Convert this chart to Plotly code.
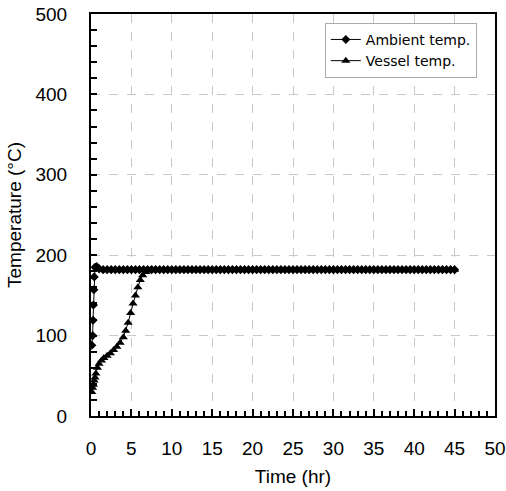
import plotly.graph_objects as go

amb_t = [0.1, 0.2, 0.25, 0.3, 0.35, 0.4, 0.5, 0.7, 1.0, 1.5,
         2, 2.5, 3, 3.5, 4, 4.5, 5, 5.5, 6, 6.5, 7, 7.5, 8, 8.5, 9, 9.5,
         10, 10.5, 11, 11.5, 12, 12.5, 13, 13.5, 14, 14.5, 15, 15.5, 16, 16.5,
         17, 17.5, 18, 18.5, 19, 19.5, 20, 20.5, 21, 21.5, 22, 22.5, 23, 23.5,
         24, 24.5, 25, 25.5, 26, 26.5, 27, 27.5, 28, 28.5, 29, 29.5, 30, 30.5,
         31, 31.5, 32, 32.5, 33, 33.5, 34, 34.5, 35, 35.5, 36, 36.5, 37, 37.5,
         38, 38.5, 39, 39.5, 40, 40.5, 41, 41.5, 42, 42.5, 43, 43.5, 44, 44.5, 45]
amb_v = [88, 100, 119, 138, 157, 173, 185, 186, 183, 182,
         182, 182, 182, 182, 182, 182, 182, 182, 182, 182, 182, 182, 182, 182, 182, 182,
         182, 182, 182, 182, 182, 182, 182, 182, 182, 182, 182, 182, 182, 182,
         182, 182, 182, 182, 182, 182, 182, 182, 182, 182, 182, 182, 182, 182,
         182, 182, 182, 182, 182, 182, 182, 182, 182, 182, 182, 182, 182, 182,
         182, 182, 182, 182, 182, 182, 182, 182, 182, 182, 182, 182, 182, 182,
         182, 182, 182, 182, 182, 182, 182, 182, 182, 182, 182, 182, 182, 182, 182]

ves_t = [0.1, 0.2, 0.3, 0.4, 0.5, 0.6, 0.8, 1.0, 1.3, 1.6, 2.0, 2.4, 2.8, 3.2,
         3.6, 4.0, 4.3, 4.6, 4.9, 5.2, 5.5, 5.8, 6.1, 6.4, 6.8, 7.2, 7.6,
         8, 8.5, 9, 9.5,
         10, 10.5, 11, 11.5, 12, 12.5, 13, 13.5, 14, 14.5, 15, 15.5, 16, 16.5,
         17, 17.5, 18, 18.5, 19, 19.5, 20, 20.5, 21, 21.5, 22, 22.5, 23, 23.5,
         24, 24.5, 25, 25.5, 26, 26.5, 27, 27.5, 28, 28.5, 29, 29.5, 30, 30.5,
         31, 31.5, 32, 32.5, 33, 33.5, 34, 34.5, 35, 35.5, 36, 36.5, 37, 37.5,
         38, 38.5, 39, 39.5, 40, 40.5, 41, 41.5, 42, 42.5, 43, 43.5, 44, 44.5, 45]
ves_v = [30, 35, 39, 44, 48, 53, 60, 65, 69, 72, 75, 78, 82, 86,
         91, 98, 106, 116, 128, 140, 150, 160, 169, 175, 179, 181, 182,
         182, 182, 182, 182,
         182, 182, 182, 182, 182, 182, 182, 182, 182, 182, 182, 182, 182, 182,
         182, 182, 182, 182, 182, 182, 182, 182, 182, 182, 182, 182, 182, 182,
         182, 182, 182, 182, 182, 182, 182, 182, 182, 182, 182, 182, 182, 182,
         182, 182, 182, 182, 182, 182, 182, 182, 182, 182, 182, 182, 182, 182,
         182, 182, 182, 182, 182, 182, 182, 182, 182, 182, 182, 182, 182, 182, 182]

x_ticks = [0, 5, 10, 15, 20, 25, 30, 35, 40, 45, 50]
y_ticks = [0, 100, 200, 300, 400, 500]

fig = go.Figure()
fig.add_trace(go.Scatter(x=amb_t, y=amb_v, mode="lines+markers", name="Ambient temp.",
                         line=dict(color="black", width=1),
                         marker=dict(symbol="diamond", size=7, color="black")))
fig.add_trace(go.Scatter(x=ves_t, y=ves_v, mode="lines+markers", name="Vessel temp.",
                         line=dict(color="black", width=1),
                         marker=dict(symbol="triangle-up", size=8, color="black")))

axis_font = dict(family="Liberation Sans, Arial, sans-serif", size=19, color="black")
fig.update_layout(
    width=506, height=491,
    margin=dict(l=91, r=11, t=14, b=75),
    paper_bgcolor="white", plot_bgcolor="white",
    font=axis_font,
    legend=dict(x=0.955, y=0.978, xanchor="right", yanchor="top",
                bgcolor="white", bordercolor="#aaaaaa", borderwidth=1,
                font=dict(family="DejaVu Sans, sans-serif", size=14, color="black"),
                tracegroupgap=0, itemwidth=30),
    xaxis=dict(range=[0, 50], tickvals=x_ticks, ticktext=[str(v) for v in x_ticks],
               showline=True, linecolor="black", linewidth=2, mirror=True,
               ticks="inside", ticklen=7, tickcolor="black", tickwidth=1.5,
               minor=dict(dtick=1, ticks="inside", ticklen=5, tickcolor="black", showgrid=False),
               showgrid=True, gridcolor="#c8c8c8", griddash="dash", gridwidth=1,
               zeroline=False, ticklabelstandoff=14, automargin=False,
               title=dict(text="Time (hr)", standoff=12, font=axis_font)),
    yaxis=dict(range=[0, 500], tickvals=y_ticks, ticktext=[str(v) for v in y_ticks],
               showline=True, linecolor="black", linewidth=2, mirror=True,
               ticks="inside", ticklen=6, tickcolor="black", tickwidth=1.5,
               minor=dict(dtick=20, ticks="inside", ticklen=6, tickcolor="black", showgrid=False),
               showgrid=True, gridcolor="#c8c8c8", griddash="dash", gridwidth=1,
               zeroline=False, ticklabelstandoff=18, automargin=False,
               title=dict(text="Temperature (°C)", standoff=9, font=axis_font)),
)

fig.write_html("out.html")
